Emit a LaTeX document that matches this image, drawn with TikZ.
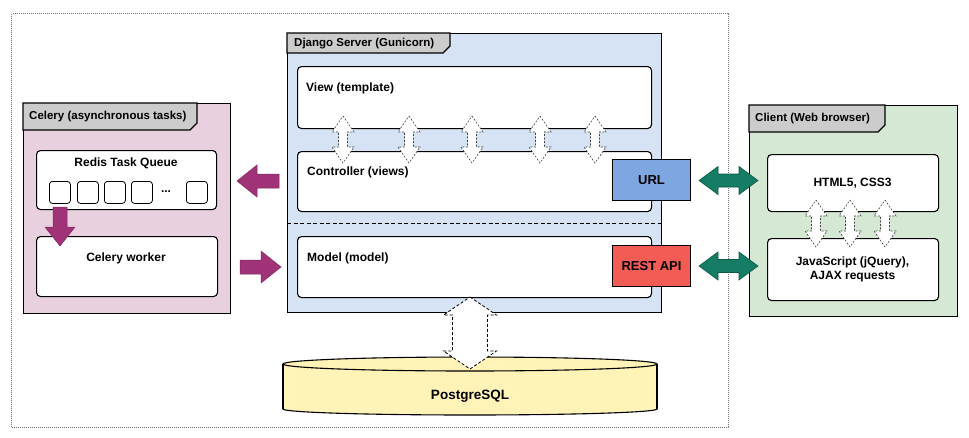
\documentclass[tikz,border=0pt]{standalone}
\usepackage{fontspec}
\setmainfont{Liberation Sans}
\definecolor{celeryfill}{RGB}{232,208,222}
\definecolor{djangofill}{RGB}{213,227,245}
\definecolor{clientfill}{RGB}{213,232,212}
\definecolor{tabfill}{RGB}{204,204,204}
\definecolor{dbfill}{RGB}{255,243,184}
\definecolor{urlfill}{RGB}{126,166,224}
\definecolor{restfill}{RGB}{242,92,84}
\definecolor{teal}{RGB}{20,125,100}
\definecolor{purp}{RGB}{160,50,120}
\newcommand\vdarrow[7]{\draw[#7] ({#1},#2) -- ({#1+#4},{#2+#6}) -- ({#1+#5},{#2+#6}) -- ({#1+#5},{#3-#6}) -- ({#1+#4},{#3-#6}) -- ({#1},#3) -- ({#1-#4},{#3-#6}) -- ({#1-#5},{#3-#6}) -- ({#1-#5},{#2+#6}) -- ({#1-#4},{#2+#6}) -- cycle;}
\newcommand\hdarrow[7]{\draw[#7] (#2,{#1}) -- ({#2+#6},{#1-#4}) -- ({#2+#6},{#1-#5}) -- ({#3-#6},{#1-#5}) -- ({#3-#6},{#1-#4}) -- (#3,{#1}) -- ({#3-#6},{#1+#4}) -- ({#3-#6},{#1+#5}) -- ({#2+#6},{#1+#5}) -- ({#2+#6},{#1+#4}) -- cycle;}
\newcommand\vsarrow[7]{\draw[#7] ({#1-#5},#2) -- ({#1+#5},#2) -- ({#1+#5},{#3-(#6)}) -- ({#1+#4},{#3-(#6)}) -- ({#1},#3) -- ({#1-#4},{#3-(#6)}) -- ({#1-#5},{#3-(#6)}) -- cycle;}
\newcommand\hsarrow[7]{\draw[#7] (#2,{#1-#5}) -- ({#3-(#6)},{#1-#5}) -- ({#3-(#6)},{#1-#4}) -- (#3,{#1}) -- ({#3-(#6)},{#1+#4}) -- ({#3-(#6)},{#1+#5}) -- (#2,{#1+#5}) -- cycle;}
\begin{document}
\begin{tikzpicture}[x=1pt,y=-1pt,
  lbl/.style={font=\fontsize{12}{14}\selectfont\bfseries, inner sep=0pt},
  tablbl/.style={font=\fontsize{11.5}{13}\selectfont\bfseries, inner sep=0pt, anchor=west},
  cont/.style={draw=black, line width=1.1pt, anchor=north west, inner sep=0pt},
  inbox/.style={draw=black, line width=1.1pt, fill=white, rounded corners=4pt, anchor=north west, inner sep=0pt},
  sq/.style={draw=black, line width=0.8pt, fill=white, rounded corners=3pt, anchor=north west, inner sep=0pt, minimum width=21pt, minimum height=22pt},
  tab/.style={draw=black, line width=1.1pt, fill=tabfill},
  bigbtn/.style={draw=black, line width=1.1pt, anchor=north west, inner sep=0pt, minimum width=78pt, minimum height=41pt, font=\fontsize{13}{15}\selectfont\bfseries},
  smallarr/.style={draw=black!75, fill=white, line width=0.6pt, dash pattern=on 2pt off 1.5pt},
  purparr/.style={fill=purp, draw=purp!80!black, line width=0.5pt},
  tealarr/.style={fill=teal, draw=teal!70!black, line width=0.6pt}]
\useasboundingbox (0,0) rectangle (969,437);
% outer dotted frame
\node[draw=black!55, line width=1.2pt, dash pattern=on 1pt off 1pt, anchor=north west, inner sep=0pt, minimum width=717pt, minimum height=414pt] (outer) at (11,13) {};

% ---------- Celery ----------
\node[cont, fill=celeryfill, minimum width=207pt, minimum height=210pt] (celery) at (23,103) {};
\draw[tab] (23,103) -- (197,103) -- (197,123) -- (190,130) -- (23,130) -- cycle;
\node[tablbl] (celerytitle) at (29,116.5) {Celery (asynchronous tasks)};
\node[inbox, minimum width=180pt, minimum height=59pt] (redis) at (36,150) {};
\node[lbl] (redislbl) at (126,163) {Redis Task Queue};
\node[sq] (q1) at (49,181) {};
\node[sq] (q2) at (77,181) {};
\node[sq] (q3) at (104,181) {};
\node[sq] (q4) at (131,181) {};
\node[lbl] (qdots) at (166,192) {...};
\node[sq] (q5) at (186,181) {};
\node[inbox, minimum width=181pt, minimum height=60pt] (worker) at (36,236) {};
\node[lbl] (workerlbl) at (126,258) {Celery worker};
\vsarrow{60}{207}{246}{15}{7}{19}{purparr}

% ---------- Django ----------
\node[cont, fill=djangofill, minimum width=374pt, minimum height=279pt] (django) at (287,33) {};
\draw[tab] (287,33) -- (450,33) -- (450,46) -- (443,53) -- (287,53) -- cycle;
\node[tablbl] (djangotitle) at (294,43.5) {Django Server (Gunicorn)};
\draw[line width=1pt, dash pattern=on 4pt off 2.5pt] (django.west |- 0,223) -- (django.east |- 0,223);
\node[inbox, minimum width=354pt, minimum height=62pt] (view) at (297,66) {};
\node[lbl, anchor=west] (viewlbl) at (306,88) {View (template)};
\node[inbox, minimum width=354pt, minimum height=60pt] (controller) at (297,151) {};
\node[lbl, anchor=west] (ctrllbl) at (307,172) {Controller (views)};
\node[inbox, minimum width=354pt, minimum height=61pt] (model) at (297,236) {};
\node[lbl, anchor=west] (modellbl) at (307,258) {Model (model)};
\foreach \cx in {343,409,472,540,595} {\vdarrow{\cx}{116}{163}{11}{4.5}{16}{smallarr}}
\node[bigbtn, fill=urlfill] (url) at (612,159) {URL};
\node[bigbtn, fill=restfill] (rest) at (612,245) {REST API};

% purple arrows between Celery and Django
\hsarrow{181}{279}{237}{16}{7}{-20}{purparr}
\hsarrow{267}{240}{281}{16}{7}{20}{purparr}

% ---------- Client ----------
\node[cont, fill=clientfill, minimum width=208pt, minimum height=211pt] (client) at (749,105) {};
\draw[tab] (749,105) -- (885,105) -- (885,125) -- (878,132) -- (749,132) -- cycle;
\node[tablbl] (clienttitle) at (755,118.5) {Client (Web browser)};
\node[inbox, minimum width=171pt, minimum height=57pt] (html) at (767,154) {};
\node[lbl] (htmllbl) at (852.5,183) {HTML5, CSS3};
\node[inbox, minimum width=171pt, minimum height=62pt] (js) at (767,238) {};
\node[lbl, align=center] (jslbl) at (852.5,269) {JavaScript (jQuery),\\AJAX requests};
\foreach \cx in {816,850,885} {\vdarrow{\cx}{200}{247}{11}{4.5}{16}{smallarr}}

% teal arrows
\hdarrow{180.5}{699}{758}{14}{6.5}{19}{tealarr}
\hdarrow{266}{699}{758}{14}{6.5}{19}{tealarr}

% ---------- PostgreSQL ----------
\draw[fill=dbfill, line width=1.1pt] (470,409) ellipse [x radius=187pt, y radius=6pt];
\fill[dbfill] (283,364) rectangle (657,409);
\draw[line width=1.1pt] (283,364) -- (283,409);
\draw[line width=1.1pt] (657,364) -- (657,409);
\draw[fill=dbfill, line width=1.1pt] (470,364) ellipse [x radius=187pt, y radius=7pt];
\node[lbl, font=\fontsize{13.5}{15}\selectfont\bfseries] (db) at (470,396) {PostgreSQL};
\vdarrow{470}{297}{369}{26.5}{17.5}{18}{draw=black, fill=white, line width=0.8pt, dash pattern=on 3pt off 2pt}
\end{tikzpicture}
\end{document}
